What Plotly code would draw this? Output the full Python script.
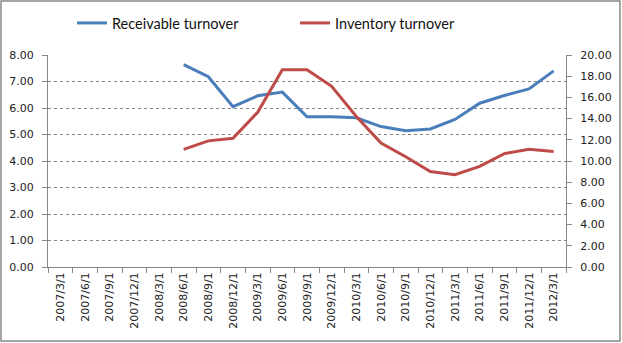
import plotly.graph_objects as go

categories = ["2007/3/1", "2007/6/1", "2007/9/1", "2007/12/1", "2008/3/1", "2008/6/1",
              "2008/9/1", "2008/12/1", "2009/3/1", "2009/6/1", "2009/9/1", "2009/12/1",
              "2010/3/1", "2010/6/1", "2010/9/1", "2010/12/1", "2011/3/1", "2011/6/1",
              "2011/9/1", "2011/12/1", "2012/3/1"]

receivable = [None, None, None, None, None, 7.64, 7.18, 6.05, 6.46, 6.60, 5.67, 5.67,
              5.63, 5.30, 5.14, 5.21, 5.57, 6.18, 6.47, 6.72, 7.40]

inventory = [None, None, None, None, None, 11.1, 11.9, 12.15, 14.6, 18.6, 18.6, 17.05,
             14.2, 11.7, 10.4, 9.0, 8.7, 9.5, 10.7, 11.1, 10.9]

left_ticks = [0, 1, 2, 3, 4, 5, 6, 7, 8]
right_ticks = [0, 2, 4, 6, 8, 10, 12, 14, 16, 18, 20]

W, H = 622, 343
ml, mr, mt, mb = 48, 56, 55, 76
pw, ph = W - ml - mr, H - mt - mb

axis_col = "#868686"
tick_font = dict(family="DejaVu Sans", size=11, color="#222222")

fig = go.Figure()
fig.add_trace(go.Scatter(x=categories, y=receivable, name="Receivable turnover",
                         mode="lines", line=dict(color="#4A7EBB", width=3),
                         yaxis="y"))
fig.add_trace(go.Scatter(x=categories, y=inventory, name="Inventory turnover",
                         mode="lines", line=dict(color="#BE4B48", width=3),
                         yaxis="y2"))

fig.update_layout(
    width=W, height=H,
    margin=dict(l=ml, r=mr, t=mt, b=mb, autoexpand=False),
    paper_bgcolor="white", plot_bgcolor="white",
    showlegend=True,
    legend=dict(orientation="h", x=(72 - ml) / pw, xanchor="left",
                y=(H - mb - 23) / ph, yanchor="middle",
                font=dict(family="Lato", size=14.5, color="#111111"),
                entrywidth=178, bgcolor="rgba(0,0,0,0)"),
    xaxis=dict(type="category", categoryorder="array", categoryarray=categories,
               tickvals=categories, ticktext=categories,
               tickangle=-90, tickson="boundaries", ticks="outside", ticklen=5,
               tickcolor=axis_col, showline=True, linecolor=axis_col, linewidth=1,
               showgrid=False, tickfont=tick_font, range=[-0.5, len(categories) - 0.5]),
    yaxis=dict(range=[0, 8], tickvals=left_ticks, tickformat=".2f", ticks="outside",
               ticklen=5, tickcolor=axis_col, showline=True, linecolor=axis_col,
               showgrid=True, gridcolor=axis_col, griddash="dot", gridwidth=1,
               zeroline=False, tickfont=tick_font, ticklabelstandoff=6),
    yaxis2=dict(range=[0, 20], tickvals=right_ticks, tickformat=".2f", overlaying="y",
                side="right", ticks="outside", ticklen=5, tickcolor=axis_col,
                showline=True, linecolor=axis_col, showgrid=False, zeroline=False,
                tickfont=tick_font, ticklabelstandoff=6),
)

fig.add_shape(type="rect", xref="paper", yref="paper",
              x0=(1 - ml) / pw, x1=(W - 2 - ml) / pw,
              y0=(H - mb - (H - 2)) / ph, y1=(H - mb - 1) / ph,
              line=dict(color="#888888", width=1.5), fillcolor="rgba(0,0,0,0)",
              layer="below")

fig.write_html("out.html")
